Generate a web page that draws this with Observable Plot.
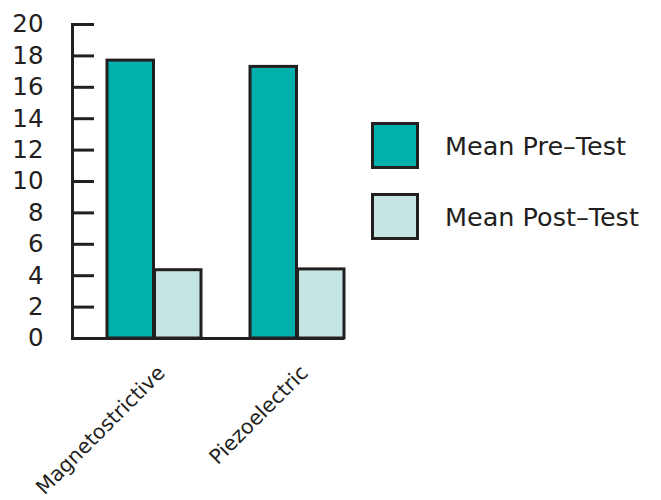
<!DOCTYPE html>
<html>
<head>
<meta charset="utf-8">
<script src="https://cdn.jsdelivr.net/npm/d3@7"></script>
<script src="https://cdn.jsdelivr.net/npm/@observablehq/plot@0.6"></script>
<style>
  body { margin: 0; background: #fff; }
  #wrap { position: relative; width: 661px; height: 500px; font-family: "DejaVu Sans", Verdana, sans-serif; color: #231f20; }
  #legend { position: absolute; left: 371px; top: 122px; }
  .item { display: flex; align-items: center; height: 47px; margin-bottom: 24px; }
  .sw { width: 42px; height: 41px; border: 3px solid #231f20; }
  .lab { margin-left: 26px; font-size: 25.5px; white-space: nowrap; }
</style>
</head>
<body>
<div id="wrap"></div>
<script>
const categories = ["Magnetostrictive", "Piezoelectric"];
const series = ["Mean Pre\u2013Test", "Mean Post\u2013Test"];
const preTest = [17.7, 17.3];
const postTest = [4.35, 4.4];
const yTicks = [0, 2, 4, 6, 8, 10, 12, 14, 16, 18, 20];
const colors = ["#00b0ad", "#c5e5e5"];

const rows = [];
categories.forEach((c, i) => {
  rows.push({category: c, series: series[0], value: preTest[i]});
  rows.push({category: c, series: series[1], value: postTest[i]});
});

const ink = "#231f20";
const half = 47.5;

const plot = Plot.plot({
  width: 661,
  height: 500,
  marginLeft: 72,
  marginRight: 317,
  marginTop: 24,
  marginBottom: 162,
  style: {fontFamily: "DejaVu Sans, Verdana, sans-serif", color: ink, background: "white"},
  x: {domain: categories, paddingInner: 0.34, paddingOuter: 0.1146, align: 1, label: null},
  y: {domain: [0, 20], label: null},
  color: {domain: series, range: colors},
  marks: [
    Plot.barY(rows.filter(d => d.series === series[0]), {x: "category", y: "value", fill: "series", stroke: ink, strokeWidth: 3, insetRight: half}),
    Plot.barY(rows.filter(d => d.series === series[1]), {x: "category", y: "value", fill: "series", stroke: ink, strokeWidth: 3, insetLeft: half}),
    Plot.axisY(yTicks, {anchor: "left", tickSize: 0, tickPadding: 29, fontSize: 24.5, fill: ink, label: null}),
    Plot.axisY(yTicks, {anchor: "right", frameAnchor: "left", tickSize: 21, strokeWidth: 3, stroke: ink, tickFormat: () => "", label: null}),
    Plot.axisX({tickSize: 0, tickRotate: -45, tickPadding: 31, dx: 7, fontSize: 20.5, fill: ink, label: null}),
    Plot.frame({anchor: "left", stroke: ink, strokeWidth: 3}),
    Plot.ruleY([0], {stroke: ink, strokeWidth: 3})
  ]
});

const wrap = document.getElementById("wrap");
wrap.appendChild(plot);

const color = plot.scale("color");
const legend = document.createElement("div");
legend.id = "legend";
color.domain.forEach((s, i) => {
  const item = document.createElement("div");
  item.className = "item";
  const sw = document.createElement("div");
  sw.className = "sw";
  sw.style.background = color.range[i];
  const lab = document.createElement("div");
  lab.className = "lab";
  lab.textContent = s;
  item.appendChild(sw);
  item.appendChild(lab);
  legend.appendChild(item);
});
wrap.appendChild(legend);
</script>
</body>
</html>
